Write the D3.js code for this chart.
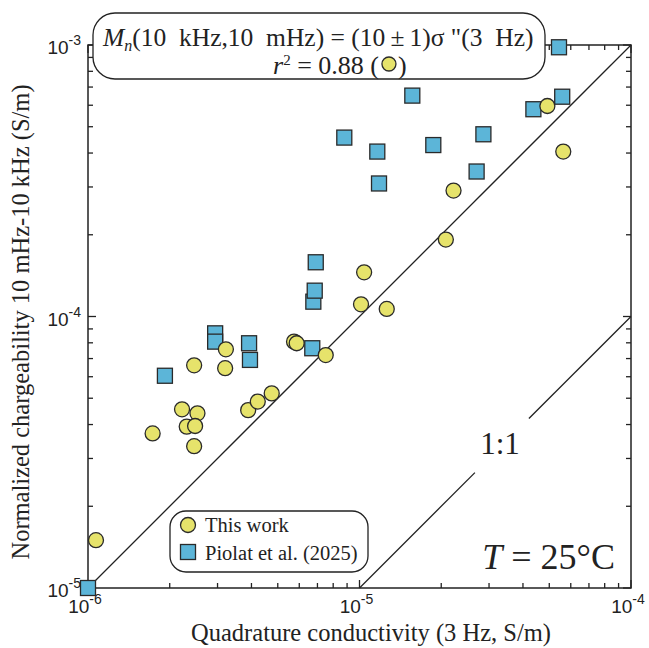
<!DOCTYPE html>
<html><head><meta charset="utf-8">
<script src="https://cdn.jsdelivr.net/npm/d3@7"></script>
<style>body{margin:0;background:#fff}svg{display:block}</style>
</head><body>
<svg id="c" width="649" height="648"></svg>
<script>
// Data: [quadrature conductivity (S/m), normalized chargeability (S/m)]
const thisWork = [
  [1.07e-6,1.50e-5],[1.73e-6,3.71e-5],[2.22e-6,4.55e-5],[2.53e-6,4.40e-5],[2.31e-6,3.93e-5],
  [2.48e-6,3.95e-5],[2.46e-6,3.33e-5],[2.46e-6,6.61e-5],[3.22e-6,7.57e-5],[3.20e-6,6.45e-5],
  [3.89e-6,4.52e-5],[4.22e-6,4.86e-5],[4.75e-6,5.21e-5],[5.74e-6,8.08e-5],[5.87e-6,7.97e-5],
  [7.51e-6,7.21e-5],[1.013e-5,1.109e-4],[1.04e-5,1.455e-4],[1.26e-5,1.066e-4],[2.08e-5,1.92e-4],
  [2.22e-5,2.91e-4],[4.92e-5,5.96e-4],[5.63e-5,4.05e-4]
];
const piolat = [
  [1.0e-6,1.0e-5],[1.92e-6,6.05e-5],[2.94e-6,8.67e-5],[2.94e-6,8.08e-5],[3.92e-6,7.97e-5],
  [3.95e-6,6.92e-5],[6.70e-6,7.64e-5],[6.76e-6,1.134e-4],[6.84e-6,1.245e-4],[6.90e-6,1.584e-4],
  [8.79e-6,4.56e-4],[1.163e-5,4.05e-4],[1.18e-5,3.09e-4],[1.565e-5,6.51e-4],[1.87e-5,4.28e-4],
  [2.70e-5,3.42e-4],[2.86e-5,4.69e-4],[4.37e-5,5.80e-4],[5.43e-5,9.81e-4],[5.58e-5,6.45e-4]
];
const xMajor = [1e-6,1e-5,1e-4];
const yMajor = [1e-5,1e-4,1e-3];
const xTickLabels = ["-6","-5","-4"];
const yTickLabels = ["-5","-4","-3"];
const fitLine = [[1e-6,1e-5],[1e-4,1e-3]];
const oneToOneLow = [[1e-5,1e-5],[10**-4.575,10**-4.575]];
const oneToOneHigh = [[10**-4.376,10**-4.376],[1e-4,1e-4]];
const legendItems = ["This work","Piolat et al. (2025)"];

const svg = d3.select("#c");
const L=88,R=631,T=45,B=588;
const x = d3.scaleLog().domain([1e-6,1e-4]).range([L,R]);
const y = d3.scaleLog().domain([1e-5,1e-3]).range([B,T]);
const serif = "'Liberation Serif','Times New Roman',serif";
const sans = "'Liberation Sans',Arial,sans-serif";
const ink = "#222";
const yellow = "#e6e36b", blue = "#5cb5d8", stroke="#2a2a2a";

function minors(domain){const out=[];for(let e=Math.log10(domain[0]);e<Math.log10(domain[1])-1e-9;e++){for(let k=2;k<=9;k++)out.push(k*Math.pow(10,e));}return out;}
const xMin = minors(x.domain()), yMin = minors(y.domain());

const axisG = svg.append("g").attr("stroke",ink).attr("stroke-width",1.3).attr("fill","none");
axisG.append("rect").attr("x",L).attr("y",T).attr("width",R-L).attr("height",B-T).attr("stroke-width",1.5);
const tickSets = [
  {vals:xMin,len:5,pos:"bottom"},{vals:xMajor,len:8,pos:"bottom"},
  {vals:xMin,len:5,pos:"top"},{vals:xMajor,len:8,pos:"top"},
  {vals:yMin,len:5,pos:"left"},{vals:yMajor,len:8,pos:"left"},
  {vals:yMin,len:5,pos:"right"},{vals:yMajor,len:8,pos:"right"}
];
tickSets.forEach(s=>{
  s.vals.forEach(v=>{
    let x1,y1,x2,y2;
    if(s.pos==="bottom"){x1=x2=x(v);y1=B;y2=B-s.len;}
    if(s.pos==="top"){x1=x2=x(v);y1=T;y2=T+s.len;}
    if(s.pos==="left"){y1=y2=y(v);x1=L;x2=L+s.len;}
    if(s.pos==="right"){y1=y2=y(v);x1=R;x2=R-s.len;}
    axisG.append("line").attr("x1",x1).attr("y1",y1).attr("x2",x2).attr("y2",y2);
  });
});

xMajor.forEach((v,i)=>{
  const t=svg.append("text").attr("x",x(v)-3).attr("y",613).attr("text-anchor","middle")
    .attr("font-family",sans).attr("font-size",19).attr("fill",ink);
  t.append("tspan").text("10");
  t.append("tspan").attr("font-size",14).attr("dy",-9).text(xTickLabels[i]);
});
yMajor.forEach((v,i)=>{
  const t=svg.append("text").attr("x",81).attr("y",y(v)+9).attr("text-anchor","end")
    .attr("font-family",sans).attr("font-size",19).attr("fill",ink);
  t.append("tspan").text("10");
  t.append("tspan").attr("font-size",14).attr("dy",-9).text(yTickLabels[i]);
});

svg.append("text").attr("x",371).attr("y",641).attr("text-anchor","middle")
  .attr("font-family",serif).attr("font-size",24.5).attr("fill",ink)
  .text("Quadrature conductivity (3 Hz, S/m)");
svg.append("text").attr("transform",`translate(29,322) rotate(-90)`).attr("text-anchor","middle")
  .attr("font-family",serif).attr("font-size",24.5).attr("fill",ink)
  .text("Normalized chargeability 10 mHz-10 kHz (S/m)");

const line = d3.line().x(d=>x(d[0])).y(d=>y(d[1]));
[fitLine,oneToOneLow,oneToOneHigh].forEach(seg=>{
  svg.append("path").attr("d",line(seg)).attr("stroke",ink).attr("stroke-width",1.3).attr("fill","none");
});
svg.append("text").attr("x",x(10**-4.4825)).attr("y",454).attr("text-anchor","middle")
  .attr("font-family",serif).attr("font-size",31).attr("fill",ink).text("1:1");

const sq=15;
svg.append("g").selectAll("rect").data(piolat).join("rect")
  .attr("x",d=>x(d[0])-sq/2).attr("y",d=>y(d[1])-sq/2).attr("width",sq).attr("height",sq)
  .attr("fill",blue).attr("stroke",stroke).attr("stroke-width",1.3);
svg.append("g").selectAll("circle").data(thisWork).join("circle")
  .attr("cx",d=>x(d[0])).attr("cy",d=>y(d[1])).attr("r",7.5)
  .attr("fill",yellow).attr("stroke",stroke).attr("stroke-width",1.3);

// annotation box
svg.append("rect").attr("x",93).attr("y",13).attr("width",452).attr("height",66).attr("rx",22)
  .attr("fill","#fff").attr("stroke",ink).attr("stroke-width",1.3);
const eq = svg.append("text").attr("x",103).attr("y",46).attr("font-family",serif).attr("font-size",25.5)
  .attr("fill",ink).style("white-space","pre");
eq.append("tspan").attr("font-style","italic").text("M");
eq.append("tspan").attr("font-style","italic").attr("font-size",16).attr("dy",5).text("n");
eq.append("tspan").attr("dy",-5).text("(10  kHz,10  mHz) = (10\u2009±\u20091)σ \"(3  Hz)");
const r2 = svg.append("text").attr("x",273).attr("y",74).attr("font-family",serif).attr("font-size",26)
  .attr("fill",ink).style("white-space","pre");
r2.append("tspan").attr("font-style","italic").text("r");
r2.append("tspan").attr("font-size",15).attr("dy",-9).text("2");
r2.append("tspan").attr("dy",9).text(" = 0.88 (");
const w = r2.node().getComputedTextLength();
const cx = 273 + w + 10;
svg.append("circle").attr("cx",cx).attr("cy",64).attr("r",7).attr("fill",yellow).attr("stroke",stroke).attr("stroke-width",1.3);
svg.append("text").attr("x",cx+9).attr("y",74).attr("font-family",serif).attr("font-size",26).attr("fill",ink).text(")");

// legend
svg.append("rect").attr("x",170).attr("y",511).attr("width",198).attr("height",61).attr("rx",16)
  .attr("fill","#fff").attr("stroke",ink).attr("stroke-width",1.3);
svg.append("circle").attr("cx",188).attr("cy",525).attr("r",7.5).attr("fill",yellow).attr("stroke",stroke).attr("stroke-width",1.3);
svg.append("rect").attr("x",188-7.5).attr("y",552-7.5).attr("width",15).attr("height",15).attr("fill",blue).attr("stroke",stroke).attr("stroke-width",1.3);
legendItems.forEach((s,i)=>{
  svg.append("text").attr("x",205).attr("y",532+i*28).attr("font-family",serif).attr("font-size",20.5)
    .attr("fill",ink).text(s);
});

const tl = svg.append("text").attr("x",615).attr("y",569).attr("text-anchor","end")
  .attr("font-family",serif).attr("font-size",36).attr("fill",ink);
tl.append("tspan").attr("font-style","italic").text("T");
tl.append("tspan").text(" = 25°C");
</script>
</body></html>
